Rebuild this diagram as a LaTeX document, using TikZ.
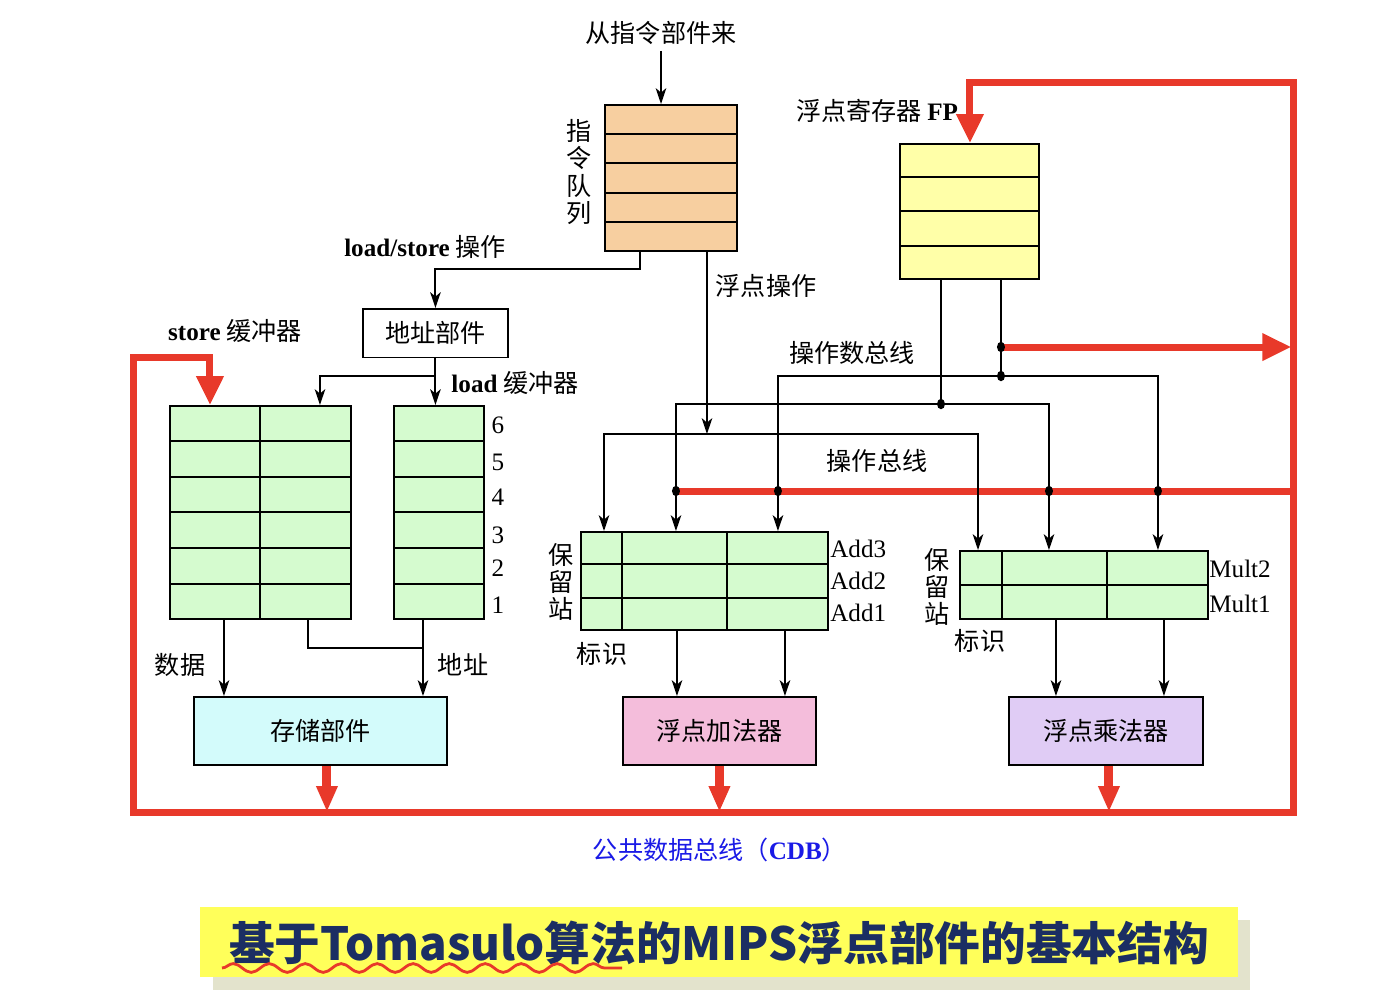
\documentclass[tikz,border=0pt]{standalone}
\usepackage{fontspec}
\setmainfont{Liberation Serif}
\newfontfamily\cjk{Noto Sans CJK SC}
\usepackage{tikz}
\usetikzlibrary{
  shapes.geometric,
  arrows.meta,
  positioning,
  calc,
  decorations.pathmorphing
}
\definecolor{cdbred}{HTML}{E8392A}
\definecolor{queuefill}{HTML}{F7CFA0}
\definecolor{regfill}{HTML}{FFFFA8}
\definecolor{bufgreen}{HTML}{D5FBCF}
\definecolor{memcyan}{HTML}{D3FBFB}
\definecolor{addpink}{HTML}{F4BDDB}
\definecolor{mullilac}{HTML}{E0CCF5}
\definecolor{cdbblue}{HTML}{1A1AE6}
\definecolor{titlenavy}{HTML}{1B2E63}
\definecolor{titleyellow}{HTML}{FFFF5A}
\definecolor{titleshadow}{HTML}{E3E3CC}
\newcommand{\zhfont}{\cjk\fontsize{14.3}{15.5}\selectfont}
\tikzset{
  unit/.style={
    rectangle, draw, line width=1.1pt, anchor=north west,
    inner sep=0pt, font=\zhfont
  },
  cellline/.style={line width=1.1pt},
  conn/.style={line width=1pt},
  arr/.style={-{Stealth[length=9pt, width=6pt, inset=2.5pt]}, line width=1.1pt},
  arrboth/.style={{Stealth[length=9pt, width=6pt, inset=2.5pt]}-{Stealth[length=9pt, width=6pt, inset=2.5pt]}, line width=1.1pt},
  dot/.style={ellipse, fill, inner sep=0pt, minimum width=0.16cm, minimum height=0.21cm},
  cdbline/.style={draw=cdbred, line width=0.14cm},
  cdbarrow/.style={cdbline, -{Triangle[length=0.58cm, width=0.52cm]}},
  outarrow/.style={draw=cdbred, line width=0.18cm, -{Triangle[length=0.52cm, width=0.4cm]}},
}
% horizontal row lines of a register block
\newcommand{\cellrows}[2]{%
  \foreach \k in {1,...,#2}{
    \ifnum\k<#2
      \draw[cellline] ($(#1.north west)!\k/#2!(#1.south west)$) -- ($(#1.north east)!\k/#2!(#1.south east)$);
    \fi
  }%
}
\newcommand{\cellcol}[2]{%
  \draw[cellline] ([xshift=#2]#1.north west) -- ([xshift=#2]#1.south west);%
}

\begin{document}
\begin{tikzpicture}[
  x=0.02cm, y=-0.02cm,
  every node/.style={font=\zhfont},
]
\useasboundingbox (0,0) rectangle (1377,1002);

% Instruction queue
\node (src) at (661,33) {从指令部件来};
\node[unit, fill=queuefill, minimum width=2.64cm, minimum height=2.92cm] (iq) at (604,104) {};
\cellrows{iq}{5}
\node[align=center] (iqlabel) at (579,172) {指\\令\\队\\列};

% FP registers
\node (fplabel) at (877,111) {浮点寄存器 {\rmfamily\bfseries FP}};
\node[unit, fill=regfill, minimum width=2.78cm, minimum height=2.70cm] (fp) at (899,143) {};
\cellrows{fp}{4}

% Address unit and load/store buffers
\node (lslabel) at (425,247) {{\rmfamily\bfseries load/store} 操作};
\node[unit, fill=white, minimum width=2.90cm, minimum height=0.97cm] (addr) at (362,308) {地址部件};
\node (sblabel) at (235,331) {{\rmfamily\bfseries store} 缓冲器};
\node (lblabel) at (515,383) {{\rmfamily\bfseries load} 缓冲器};
\node[unit, fill=bufgreen, minimum width=3.62cm, minimum height=4.26cm] (sb) at (169,405) {};
\cellrows{sb}{6}
\cellcol{sb}{1.82cm}
\node[unit, fill=bufgreen, minimum width=1.80cm, minimum height=4.26cm] (lb) at (393,405) {};
\cellrows{lb}{6}
\foreach \n/\y in {6/425,5/462,4/497,3/535,2/568,1/605}
  \node (num\n) at (498,\y) {\rmfamily\n};
\node (datalabel) at (180,665) {数据};
\node (addrlabel) at (463,665) {地址};
\node[unit, fill=memcyan, minimum width=5.06cm, minimum height=1.36cm] (mem) at (193,696) {存储部件};

% Reservation stations
\node (fpoplabel) at (766,286) {浮点操作};
\node (oplabel) at (852,353) {操作数总线};
\node (buslabel) at (877,461) {操作总线};
\node[unit, fill=bufgreen, minimum width=4.94cm, minimum height=1.96cm] (addrs) at (580,531) {};
\cellrows{addrs}{3}
\cellcol{addrs}{0.84cm}
\cellcol{addrs}{2.94cm}
\node[align=center] (addrslabel) at (561,582) {保\\留\\站};
\node (addtag) at (602,654) {标识};
\foreach \n/\y in {3/549,2/581,1/613}
  \node[anchor=west, inner sep=0pt] (add\n) at (830,\y) {\rmfamily Add\n};
\node[unit, fill=addpink, minimum width=3.86cm, minimum height=1.36cm] (adder) at (622,696) {浮点加法器};

\node[unit, fill=bufgreen, minimum width=4.96cm, minimum height=1.36cm] (mulrs) at (959,550) {};
\cellrows{mulrs}{2}
\cellcol{mulrs}{0.86cm}
\cellcol{mulrs}{2.96cm}
\node[align=center] (mulrslabel) at (937,587) {保\\留\\站};
\node (multag) at (980,641) {标识};
\node[anchor=west, inner sep=0pt] (mult2) at (1209,569) {\rmfamily Mult2};
\node[anchor=west, inner sep=0pt] (mult1) at (1209,604) {\rmfamily Mult1};
\node[unit, fill=mullilac, minimum width=3.88cm, minimum height=1.36cm] (multiplier) at (1008,696) {浮点乘法器};

% Common data bus
\coordinate (sbin) at ([xshift=0.82cm]sb.north west);
\coordinate (cdbTL) at (133,357);
\coordinate (cdbBL) at (133,812);
\coordinate (cdbBR) at (1293,812);
\coordinate (cdbTR) at (1293,82);
\coordinate (fpin) at ([xshift=1.42cm]fp.north west);
\draw[cdbline, line join=miter, {Triangle[length=0.58cm, width=0.52cm]}-{Triangle[length=0.58cm, width=0.52cm]}]
  (sbin) |- (cdbTL) -- (cdbBL) -- (cdbBR) -- (cdbTR) -| (fpin);
\draw[outarrow] ([xshift=0.13cm]mem.south) -- ([xshift=0.13cm]mem.south |- cdbBL);
\draw[outarrow] (adder.south) -- (adder.south |- cdbBL);
\draw[outarrow] ([xshift=0.06cm]multiplier.south) -- ([xshift=0.06cm]multiplier.south |- cdbBL);
\node[text=cdbblue] (cdblabel) at (720,850) {公共数据总线（{\rmfamily\bfseries CDB}）};

% Register outputs and buses
\coordinate (fpo1) at ([xshift=0.84cm]fp.south west);
\coordinate (fpo2) at ([xshift=2.04cm]fp.south west);
\coordinate (inA1) at ([xshift=0.48cm]addrs.north west);
\coordinate (inA2) at ([xshift=1.92cm]addrs.north west);
\coordinate (inA3) at ([xshift=3.96cm]addrs.north west);
\coordinate (inM1) at ([xshift=0.38cm]mulrs.north west);
\coordinate (inM2) at ([xshift=1.80cm]mulrs.north west);
\coordinate (inM3) at ([xshift=3.98cm]mulrs.north west);
\draw[cdbarrow, shorten >=1pt] (fpo2 |- 0,347) -- (cdbTR |- 0,347);
\draw[cdbline] (inA2 |- 0,491) -- (cdbTR |- 0,491);

\draw[conn] (fpo1) -- (fpo1 |- 0,404);
\draw[conn] (fpo2) -- (fpo2 |- 0,376);
\draw[arrboth] (inA3) |- (inM3 |- 0,376) -- (inM3);
\draw[arrboth] (inA2) |- (inM2 |- 0,404) -- (inM2);
\draw[arrboth] (inA1) |- (inM1 |- 0,434) -- (inM1);

\coordinate (fpop) at ([xshift=2.06cm]iq.south west);
\draw[arr] (fpop) -- (fpop |- 0,434);

\node[dot] (dr) at (fpo2 |- 0,347) {};
\node[dot] (d1) at (fpo2 |- 0,376) {};
\node[dot] (d2) at (fpo1 |- 0,404) {};
\foreach \c in {inA2,inA3,inM2,inM3}
  \node[dot] (cdb-\c) at (\c |- 0,491) {};

% Instruction paths
\draw[arr] (src) -- (src |- iq.north);
\coordinate (lsturn) at (640,269);
\draw[arr] (lsturn |- iq.south) -- (lsturn) -| (addr.north);
\coordinate (sbaddrin) at ([xshift=3.02cm]sb.north west);
\draw[arr] (addr.south) -- (addr.south |- lb.north);
\draw[arr] (addr.south |- 0,376) -| (sbaddrin);

% Buffers to memory
\coordinate (dataout) at ([xshift=1.10cm]sb.south west);
\coordinate (sbaddr) at ([xshift=2.78cm]sb.south west);
\coordinate (lbaddr) at ([xshift=0.60cm]lb.south west);
\draw[arr] (dataout) -- (dataout |- mem.north);
\draw[arr] (lbaddr) -- (lbaddr |- mem.north);
\draw[conn] (sbaddr) |- (lbaddr |- 0,648);

% Stations to units
\foreach \rs/\fu in {addrs/adder, mulrs/multiplier}{
  \draw[arr] ([xshift=1.94cm]\rs.south west) -- ([xshift=1.94cm]\rs.south west |- \fu.north);
  \draw[arr] ([xshift=4.10cm]\rs.south west) -- ([xshift=4.10cm]\rs.south west |- \fu.north);
}

% Title
\node[fill=titleshadow, anchor=north west, inner sep=0pt, minimum width=20.74cm, minimum height=1.40cm] (shadow) at (213,920) {};
\node[fill=titleyellow, anchor=north west, inner sep=0pt, minimum width=20.76cm, minimum height=1.40cm] (banner) at (200,907) {};
\node[font=\cjk\bfseries\fontsize{26}{30}\selectfont, text=titlenavy] (title) at (719,943) {基于Tomasulo算法的MIPS浮点部件的基本结构};
\draw[cdbred, line width=1.6pt, decorate, decoration={snake, amplitude=2.5pt, segment length=0.72cm}] (222,968) -- (622,968);

\end{tikzpicture}
\end{document}
